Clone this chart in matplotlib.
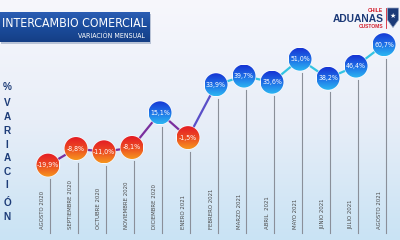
import numpy as np
import matplotlib.pyplot as plt
from matplotlib.patches import Ellipse, Rectangle, Polygon
from matplotlib.collections import LineCollection
from matplotlib.colors import LinearSegmentedColormap

meses = ["AGOSTO 2020", "SEPTIEMBRE 2020", "OCTUBRE 2020", "NOVIEMBRE 2020",
         "DICIEMBRE 2020", "ENERO 2021", "FEBRERO 2021", "MARZO 2021",
         "ABRIL  2021", "MAYO 2021", "JUNIO 2021", "JULIO 2021", "AGOSTO 2021"]
variacion = [-19.9, -8.8, -11.0, -8.1, 15.1, -1.5, 33.9, 39.7, 35.6, 51.0, 38.2, 46.4, 60.7]
etiquetas = [f"{v:.1f}%".replace(".", ",") for v in variacion]

titulo = "INTERCAMBIO COMERCIAL"
subtitulo = "VARIACIÓN MENSUAL"
eje_y = "%VARIACIÓN"

cond = dict(family="DejaVu Sans", fontstretch="condensed")

fig = plt.figure(figsize=(4, 2.4), dpi=100)

# fondo degradado
bg = fig.add_axes([0, 0, 1, 1])
bg.axis("off")
fondo = LinearSegmentedColormap.from_list("fondo", ["#f7f7fc", "#e8eef8", "#c9e3f4"])
bg.imshow(np.linspace(0, 1, 256).reshape(-1, 1), cmap=fondo, aspect="auto",
          extent=[0, 1, 0, 1], origin="upper")
bg.set_xlim(0, 1)
bg.set_ylim(0, 1)

ax = fig.add_axes([0, 0, 1, 1])
ax.axis("off")
ax.patch.set_alpha(0)
xmin, xmax = -1.714, 12.571
ymin, ymax = -70.0, 90.6

x = np.arange(len(variacion))
y = np.array(variacion)

# px -> unidades de datos
ux = (xmax - xmin) / 400
uy = (ymax - ymin) / 240

# lineas verticales y meses
for i, v in enumerate(variacion):
    ax.plot([i + 2 * ux, i + 2 * ux], [v - 14 * uy, ymax - 233 * uy],
            color="#8a8f99", lw=0.8, zorder=1)
    ax.text(i - 5 * ux, ymax - 229 * uy, meses[i], rotation=90, ha="center",
            va="bottom", fontsize=4.3, color="#4a4a4a", **cond)

# linea
segs = [[(x[i], y[i]), (x[i + 1], y[i + 1])] for i in range(len(x) - 1)]
cols = []
for i in range(len(x) - 1):
    if i < 5:
        cols.append("#7a2f9e")
    elif i == 5:
        cols.append("#5a4fc8")
    else:
        cols.append("#33c4e2")
ax.add_collection(LineCollection(segs, colors=cols, linewidths=1.6, zorder=2))

# circulos con degradado
rojo = LinearSegmentedColormap.from_list("rojo", ["#e41c24", "#ec4a22", "#f6951e"])
azul = LinearSegmentedColormap.from_list("azul", ["#1634d4", "#1e6fe6", "#2cb6f2"])
w = 23 * ux
h = 23 * uy
grad = np.linspace(0, 1, 64).reshape(-1, 1)
for i, v in enumerate(variacion):
    cm = rojo if v < 0 else azul
    borde = Ellipse((i, v), w * 1.06, h * 1.06, facecolor="white", edgecolor="none",
                    alpha=0.8, zorder=3)
    ax.add_patch(borde)
    el = Ellipse((i, v), w, h, facecolor="none", edgecolor="none", zorder=4)
    ax.add_patch(el)
    im = ax.imshow(grad, cmap=cm, aspect="auto", origin="upper",
                   extent=[i - w / 2, i + w / 2, v - h / 2, v + h / 2], zorder=4)
    im.set_clip_path(el)
    ax.text(i, v, etiquetas[i], ha="center", va="center", fontsize=5,
            color="white", zorder=5, **cond)

ax.set_xlim(xmin, xmax)
ax.set_ylim(ymin, ymax)

# decoraciones en pixeles
deco = fig.add_axes([0, 0, 1, 1])
deco.axis("off")
deco.patch.set_alpha(0)
deco.set_xlim(0, 400)
deco.set_ylim(240, 0)

banda = LinearSegmentedColormap.from_list("banda", ["#2a5db3", "#1b4c9c", "#153f86"])
deco.add_patch(Rectangle((1, 14), 150, 30, facecolor="#b9c3d6", edgecolor="none", zorder=1))
deco.imshow(np.linspace(0, 1, 32).reshape(-1, 1), cmap=banda, aspect="auto",
            extent=[0, 150, 42, 12], origin="upper", zorder=2)
deco.text(2, 27, titulo, fontsize=8.8, color="white",
          ha="left", va="baseline", zorder=3, **cond)
deco.text(145, 37.5, subtitulo, fontsize=5, color="white",
          ha="right", va="baseline", zorder=3, **cond)

# % VARIACION vertical
ys = [87, 103, 117, 131, 145, 158, 172, 185, 203, 217]
for letra, yy in zip(eje_y, ys):
    deco.text(7, yy, letra, fontsize=7.2, color="#1d3c78", fontweight="bold",
              family=["Liberation Sans", "DejaVu Sans"], ha="center", va="center")

# logo
deco.text(383, 12, "CHILE", fontsize=3.6, color="#d3202e", fontweight="bold",
          family=["Liberation Sans", "DejaVu Sans"], ha="right", va="baseline")
deco.text(383.5, 22, "ADUANAS", fontsize=7.4, color="#1c3a78", fontweight="bold",
          family=["Liberation Sans", "DejaVu Sans"], ha="right", va="baseline")
deco.text(383, 27.5, "CUSTOMS", fontsize=3.6, color="#d3202e", fontweight="bold",
          family=["Liberation Sans", "DejaVu Sans"], ha="right", va="baseline")
deco.plot([385.5, 385.5], [8, 28], color="#d3202e", lw=0.6)
deco.add_patch(Polygon([(387.5, 8), (398.5, 8), (398.5, 20), (393, 27.5), (387.5, 20)],
                       closed=True, facecolor="#1c3a78", edgecolor="#8fa0c0", lw=0.5))
deco.text(393, 16, "★", fontsize=5, color="white", ha="center", va="center",
          family=["DejaVu Sans"])

fig.savefig("out.png", dpi=100)
